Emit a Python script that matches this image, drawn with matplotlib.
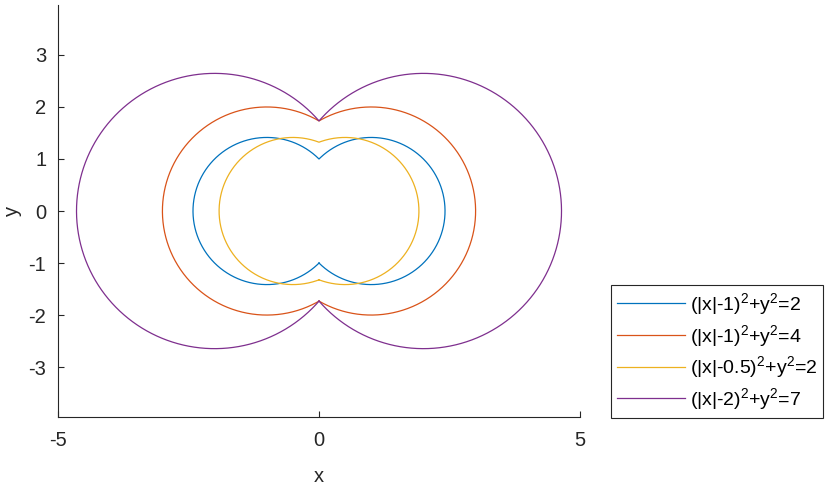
import numpy as np
import matplotlib
matplotlib.use("Agg")
import matplotlib.pyplot as plt

plt.rcParams['font.family'] = ['Liberation Sans', 'DejaVu Sans']
plt.rcParams['mathtext.fontset'] = 'custom'
plt.rcParams['mathtext.rm'] = 'Liberation Sans'
plt.rcParams['mathtext.it'] = 'Liberation Sans:italic'
plt.rcParams['axes.unicode_minus'] = False

# Curves (|x|-a)^2 + y^2 = c
offsets = [1, 1, 0.5, 2]
rhs = [2, 4, 2, 7]
labels = ['(|x|-1)$^2$+y$^2$=2', '(|x|-1)$^2$+y$^2$=4',
          '(|x|-0.5)$^2$+y$^2$=2', '(|x|-2)$^2$+y$^2$=7']
colors = ['#0072BD', '#D95319', '#EDB120', '#7E2F8E']
xticks = [-5, 0, 5]
yticks = [-3, -2, -1, 0, 1, 2, 3]

fig = plt.figure(figsize=(8.3, 4.87), dpi=100)
ax = fig.add_axes([0.0699, 0.1437, 0.6289, 0.846])

for a, c, lab, col in zip(offsets, rhs, labels, colors):
    r = np.sqrt(c)
    t0 = np.arccos(-a / r)
    t = np.linspace(-t0, t0, 600)
    xr = a + r * np.cos(t)
    yr = r * np.sin(t)
    xl = -(a + r * np.cos(t[::-1]))
    yl = r * np.sin(t[::-1])
    x = np.concatenate([xr, xl])
    y = np.concatenate([yr, yl])
    ax.plot(x, y, color=col, lw=0.9, label=lab)

ax.set_xlim(-5, 5)
ax.set_ylim(-3.96, 3.96)
ax.set_xticks(xticks)
ax.set_yticks(yticks)
ax.set_xlabel('x', fontsize=14.5, color='#262626', labelpad=12.5)
ax.set_ylabel('y', fontsize=14.5, color='#262626', labelpad=4.5)
for s in ['top', 'right']:
    ax.spines[s].set_visible(False)
for s in ['left', 'bottom']:
    ax.spines[s].set_color('#262626')
    ax.spines[s].set_linewidth(0.8)
ax.tick_params(direction='in', length=4, width=0.8, colors='#262626',
               labelsize=14.5)
ax.tick_params(axis='x', pad=10)
ax.tick_params(axis='y', pad=8.5)

leg = ax.legend(loc='lower right', bbox_to_anchor=(0.9916, 0.1417),
                bbox_transform=fig.transFigure, borderaxespad=0,
                fontsize=14, fancybox=False, handlelength=3.5,
                handletextpad=0.26, labelspacing=0.3, borderpad=0.3,
                framealpha=1)
leg.get_frame().set_edgecolor('#262626')
leg.get_frame().set_linewidth(0.8)

fig.savefig('out.png', dpi=100)
